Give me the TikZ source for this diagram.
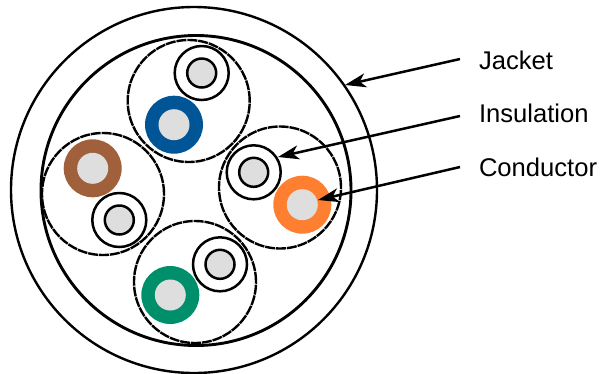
\documentclass[tikz,border=0pt]{standalone}
\usepackage{fontspec}
\setmainfont{Liberation Sans}
\usetikzlibrary{arrows.meta, positioning}
\definecolor{coregray}{HTML}{DEDEDE}
\definecolor{pairblue}{HTML}{005596}
\definecolor{pairorange}{HTML}{FF7F30}
\definecolor{pairbrown}{HTML}{A0603C}
\definecolor{pairgreen}{HTML}{008F6B}
\begin{document}
\begin{tikzpicture}[
    x=1pt, y=-1pt,
    every node/.style={inner sep=0pt, outer sep=0pt},
    ring/.style={draw, circle, line width=#1},
    twisted/.style={draw, circle, line width=2.4pt, dash pattern=on 10pt off 0.9pt, minimum size=122pt},
    wire/.style={draw, circle, fill=white, line width=2.5pt, minimum size=54pt},
    core/.style={draw, circle, fill=coregray, line width=2.5pt, minimum size=29pt},
    solidwire/.style={circle, fill=#1, minimum size=58pt},
    solidcore/.style={circle, fill=coregray, minimum size=31pt},
    lbl/.style={font=\fontsize{25.6}{30}\selectfont, anchor=west},
    arrow/.style={-{Stealth[length=21pt, width=14pt, inset=6pt]}, line width=2.5pt}
]
    \useasboundingbox (0,0) rectangle (613,373);

    % Cable
    \node[ring=2.4pt, minimum size=366pt] (jacket) at (194,190) {};
    \node[ring=2.9pt, minimum size=310pt] (shield) at (196,190.5) {};

    % Twisted pairs
    \node[twisted] (pairtop) at (188.7,101) {};
    \node[twisted] (pairright) at (280,187.5) {};
    \node[twisted] (pairleft) at (103,194) {};
    \node[twisted] (pairbottom) at (195,282) {};

    % Top pair
    \node[wire] (wiretop) at (201.7,73) {};
    \node[core] (coretop) at (wiretop.center) {};
    \node[solidwire=pairblue] (blue) at (174,124.7) {};
    \node[solidcore] (bluecore) at (blue.center) {};

    % Right pair
    \node[wire] (wireright) at (253.7,172.3) {};
    \node[core] (coreright) at (wireright.center) {};
    \node[solidwire=pairorange] (orange) at (302.3,204.7) {};
    \node[solidcore] (orangecore) at (orange.center) {};

    % Left pair
    \node[solidwire=pairbrown] (brown) at (92.7,168.3) {};
    \node[solidcore] (browncore) at (brown.center) {};
    \node[wire] (wireleft) at (119.3,220) {};
    \node[core] (coreleft) at (wireleft.center) {};

    % Bottom pair
    \node[wire] (wirebottom) at (220,264.3) {};
    \node[core] (corebottom) at (wirebottom.center) {};
    \node[solidwire=pairgreen] (green) at (170.3,295) {};
    \node[solidcore] (greencore) at (green.center) {};

    % Labels
    \node[lbl] (jacketlbl) at (479,60) {Jacket};
    \node[lbl] (insulationlbl) at (479,113) {Insulation};
    \node[lbl] (conductorlbl) at (479,167) {Conductor};

    % Arrow ends
    \coordinate (jacketstart) at (460,59);
    \coordinate (insulationstart) at (460,116);
    \coordinate (conductorstart) at (460,167);
    \coordinate (jackettip) at (345,85);
    \coordinate (insulationtip) at (278,157);
    \coordinate (conductortip) at (318,200);

    % Arrows
    \draw[arrow] (jacketstart) -- (jackettip);
    \draw[arrow] (insulationstart) -- (insulationtip);
    \draw[arrow] (conductorstart) -- (conductortip);
\end{tikzpicture}
\end{document}
